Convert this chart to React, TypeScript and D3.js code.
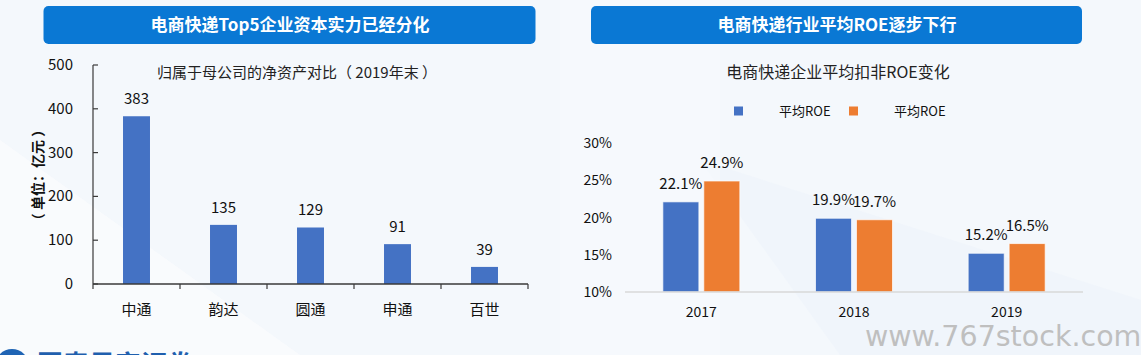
import React from "react";
import * as d3 from "d3";

const leftTitle = "电商快递Top5企业资本实力已经分化";
const leftSubtitle = "归属于母公司的净资产对比（ 2019年末 ）";
const leftUnit = "（ 单位：亿元 ）";
const companies = ["中通", "韵达", "圆通", "申通", "百世"];
const netAssets = [383, 135, 129, 91, 39];
const leftTicks = [0, 100, 200, 300, 400, 500];

const rightTitle = "电商快递行业平均ROE逐步下行";
const rightSubtitle = "电商快递企业平均扣非ROE变化";
const years = ["2017", "2018", "2019"];
const seriesNames = ["平均ROE", "平均ROE"];
const roeBlue = [22.1, 19.9, 15.2];
const roeOrange = [24.9, 19.7, 16.5];
const rightTicks = [10, 15, 20, 25, 30];

const FONT = "'Noto Sans CJK SC', 'Noto Sans', sans-serif";
const BLUE = "#4472C4";
const ORANGE = "#ED7D31";
const BAR_TITLE = "#0A78D4";

export default function App() {
  const yL = d3.scaleLinear().domain([0, 500]).range([284, 65]);
  const xL = d3.scaleBand().domain(companies).range([93, 528]).padding(0);
  const barWL = xL.step() * 0.31;

  const yR = d3.scaleLinear().domain([10, 30]).range([292, 143]);
  const xR = d3.scaleBand().domain(years).range([625, 1083]).padding(0);
  const xSub = d3.scaleBand().domain(["a", "b"]).range([0, 77]).paddingInner(0.12);
  const groupOff = (xR.step() - 77) / 2;
  const seriesVals = [roeBlue, roeOrange];
  const seriesColors = [BLUE, ORANGE];

  return (
    <svg
      width={1141}
      height={355}
      style={{ position: "absolute", left: 0, top: 0, fontFamily: FONT }}
    >
      <rect x={0} y={0} width={1141} height={355} fill="#f4f8fc" />
      <polygon points="0,140 0,355 300,355" fill="#f9fbfd" opacity={0.9} />
      <polygon points="700,160 1141,300 1141,355 840,355" fill="#eef4fb" opacity={0.7} />
      <rect x={560} y={0} width={160} height={355} fill="#f7fafd" opacity={0.6} />

      {/* Left panel */}
      <rect x={43.5} y={6} width={492} height={38} rx={5} fill={BAR_TITLE} />
      <text x={290} y={31} textAnchor="middle" fill="#fff" fontSize={17} fontWeight="bold">
        {leftTitle}
      </text>
      <text x={297} y={78} textAnchor="middle" fill="#222" fontSize={15}>
        {leftSubtitle}
      </text>
      <text
        transform="translate(43,175) rotate(-90)"
        textAnchor="middle"
        fill="#111"
        fontSize={14}
        fontWeight="bold"
      >
        {leftUnit}
      </text>

      {leftTicks.map((t) => (
        <g key={t}>
          <line x1={93} x2={98} y1={yL(t)} y2={yL(t)} stroke="#3a3a3a" strokeWidth={1.2} />
          <text x={73} y={yL(t) + 5} textAnchor="end" fontSize={15} fill="#111">
            {t}
          </text>
        </g>
      ))}
      {companies.map((c, i) => (
        <g key={c}>
          <rect
            x={(xL(c) as number) + (xL.step() - barWL) / 2}
            y={yL(netAssets[i])}
            width={barWL}
            height={yL(0) - yL(netAssets[i])}
            fill={BLUE}
          />
          <text
            x={(xL(c) as number) + xL.step() / 2}
            y={yL(netAssets[i]) - 12}
            textAnchor="middle"
            fontSize={15}
            fill="#111"
          >
            {netAssets[i]}
          </text>
          <text
            x={(xL(c) as number) + xL.step() / 2}
            y={315}
            textAnchor="middle"
            fontSize={15}
            fill="#111"
          >
            {c}
          </text>
          <line
            x1={(xL(c) as number) + xL.step()}
            x2={(xL(c) as number) + xL.step()}
            y1={284}
            y2={289}
            stroke="#3a3a3a"
            strokeWidth={1.2}
          />
        </g>
      ))}
      <line x1={93} x2={93} y1={yL(500)} y2={284} stroke="#3a3a3a" strokeWidth={1.2} />
      <line x1={93} x2={528} y1={284} y2={284} stroke="#3a3a3a" strokeWidth={1.5} />
      <line x1={93} x2={93} y1={284} y2={289} stroke="#3a3a3a" strokeWidth={1.2} />

      {/* Right panel */}
      <rect x={591} y={6} width={491} height={38} rx={5} fill={BAR_TITLE} />
      <text x={837} y={31} textAnchor="middle" fill="#fff" fontSize={17} fontWeight="bold">
        {rightTitle}
      </text>
      <text x={838} y={78} textAnchor="middle" fill="#222" fontSize={16}>
        {rightSubtitle}
      </text>
      {seriesNames.map((n, i) => (
        <g key={i}>
          <rect x={734 + i * 115} y={106.5} width={9} height={9} fill={seriesColors[i]} />
          <text x={779 + i * 115} y={116} fontSize={13} fill="#111">
            {n}
          </text>
        </g>
      ))}
      {rightTicks.map((t) => (
        <text key={t} x={612} y={yR(t) + 5} textAnchor="end" fontSize={14} fill="#111">
          {t}%
        </text>
      ))}
      {years.map((yr, i) => (
        <g key={yr}>
          {seriesVals.map((vals, s) => {
            const x = (xR(yr) as number) + groupOff + (xSub(s === 0 ? "a" : "b") as number);
            const w = xSub.bandwidth();
            return (
              <g key={s}>
                <rect
                  x={x}
                  y={yR(vals[i])}
                  width={w}
                  height={yR(10) - yR(vals[i])}
                  fill={seriesColors[s]}
                  stroke="#ffffff"
                  strokeOpacity={0.7}
                  strokeWidth={1}
                />
                <text
                  x={x + w / 2}
                  y={yR(vals[i]) - 13}
                  textAnchor="middle"
                  fontSize={15}
                  fill="#111"
                >
                  {vals[i].toFixed(1)}%
                </text>
              </g>
            );
          })}
          <text
            x={(xR(yr) as number) + xR.step() / 2}
            y={317}
            textAnchor="middle"
            fontSize={14}
            fill="#111"
          >
            {yr}
          </text>
        </g>
      ))}
      <line x1={625} x2={1083} y1={292} y2={292} stroke="#d9d9d9" strokeWidth={1.5} />

      {/* Watermark & footer (partially cropped in the reference) */}
      <text
        x={865}
        y={346}
        fontSize={28.5}
        fill="#bfbfbf"
        style={{ fontFamily: "'DejaVu Sans', sans-serif" }}
      >
        www.767stock.com
      </text>
      <circle cx={12} cy={366} r={17} fill="#1f64b4" />
      <text x={37} y={374} fontSize={26} fontWeight="bold" fill="#1f5fae">
        国泰君安证券
      </text>
    </svg>
  );
}
